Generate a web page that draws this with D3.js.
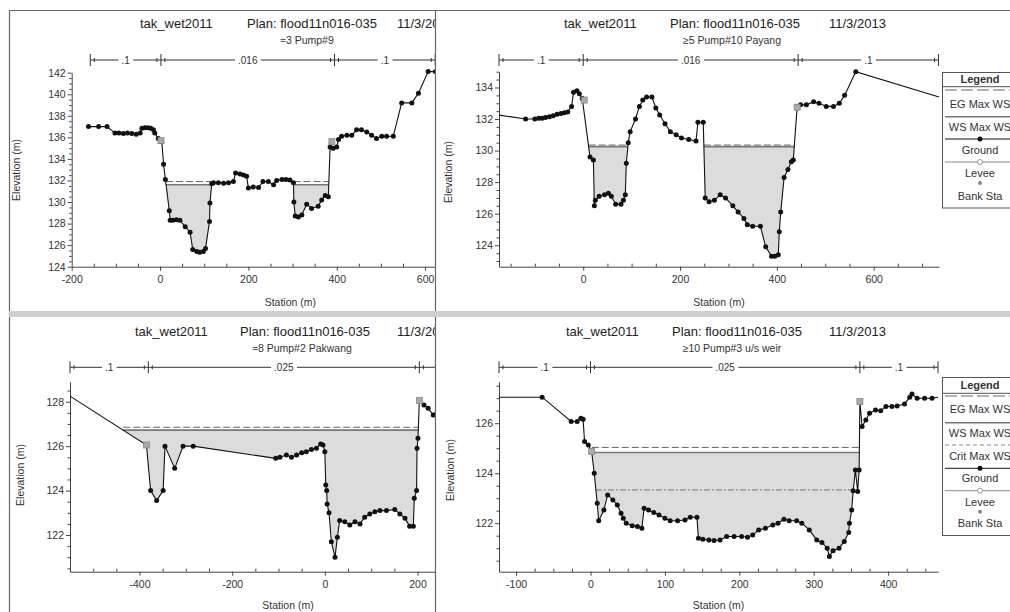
<!DOCTYPE html>
<html><head><meta charset="utf-8">
<script src="https://cdn.jsdelivr.net/npm/d3@7"></script>
<style>body{margin:0;background:#fff;} svg{display:block;font-family:"Liberation Sans",Arial,sans-serif;}</style>
</head><body><svg id="c" width="1010" height="612"></svg>
<script>
// ---------------- DATA ----------------
const titleProject = "tak_wet2011";
const titlePlan = "Plan: flood11n016-035";
const titleDate = "11/3/2013";
const subtitles = ["\u22483 Pump#9", "\u22655 Pump#10 Payang", "\u22488 Pump#2 Pakwang", "\u226510 Pump#3 u/s weir"];
const axisTitleX = "Station (m)";
const axisTitleY = "Elevation (m)";
const legendTitle = "Legend";
const legendItemsTR = ["EG Max WS", "WS Max WS", "Ground", "Levee", "Bank Sta"];
const legendItemsBR = ["EG Max WS", "WS Max WS", "Crit Max WS", "Ground", "Levee", "Bank Sta"];

// Panel 1 (top-left)
const tlStation = [-162,-139,-120,-102,-93,-83,-74,-64,-54,-45,-41,-34,-27,-21,-15,-12,-4,4,8,12,21,23,29,37,45,57,68,74,83,90,98,103,112,113,117,121,132,144,155,166,171,181,189,196,200,211,223,233,245,257,264,276,285,294,302,303,306,313,321,332,343,358,366,374,381,385,392,400,404,411,423,434,445,456,468,479,490,502,513,528,547,570,585,607,623];
const tlElev = [137,137,137,136.4,136.4,136.35,136.4,136.35,136.3,136.4,136.85,136.9,136.9,136.85,136.7,136.4,135.9,135.6,133.5,132.1,129.2,128.3,128.3,128.35,128.3,127.7,127.2,125.6,125.4,125.35,125.4,125.7,128.2,129.9,131.7,131.8,131.8,131.75,131.8,131.9,132.7,132.6,132.5,132.4,131.3,131.4,131.35,131.9,131.9,131.6,132.0,132.1,132.1,132.05,131.8,130.0,128.7,128.6,128.8,129.8,129.4,129.6,130.2,130.6,130.5,135.1,135.0,135.1,135.8,136.1,136.2,136.2,136.7,136.7,136.5,136.2,135.9,136.1,136.1,136.1,139.2,139.2,140.1,142.1,142.1];
const tlMarkStation = [2, 389];
const tlMarkElev = [135.7, 135.6];
const tlWS = 131.6, tlEG = 131.9;
const tlWetRanges = [[10,120],[300,384]];
const tlManningStation = [-158, 2, 395, 623];
const tlManningN = [".1", ".016", ".1"];
const tlXTicks = [-200, 0, 200, 400, 600];
const tlYTicks = [124,126,128,130,132,134,136,138,140,142];

// Panel 2 (top-right)
const trStation = [-174,-119,-100,-92,-85,-78,-70,-62,-54,-46,-39,-32,-24,-20,-13,-8,-2,14,21,23,25,33,44,52,58,67,78,83,87,89,93,97,108,116,123,131,142,150,158,169,180,192,203,218,233,237,248,252,260,271,283,294,309,320,332,339,350,366,377,389,396,403,405,408,415,423,430,434,442,449,461,476,487,502,517,529,540,563,735];
const trElev = [132.25,132.0,132.0,132.05,132.05,132.1,132.15,132.2,132.3,132.35,132.4,132.45,132.8,133.7,133.8,133.6,133.3,129.6,129.4,126.5,126.85,127.1,127.2,127.3,127.1,126.6,126.6,126.85,127.2,129.2,130.5,131.2,132.0,132.8,133.2,133.4,133.4,132.7,132.25,131.7,131.2,131.0,130.8,130.7,130.6,131.8,131.8,127.0,126.75,126.85,127.2,127.0,126.5,126.1,125.7,125.3,125.2,125.2,123.9,123.3,123.3,123.4,124.85,126.1,128.3,128.8,129.3,129.4,132.8,132.9,132.9,133.1,133.0,132.8,132.8,133.0,133.5,135.0,133.4];
const trMarkStation = [2, 442];
const trMarkElev = [133.2, 132.75];
const trWS = 130.25, trEG = 130.35;
const trWetRanges = [[5,95],[246,440]];
const trManningStation = [-174, 0, 444, 734];
const trManningN = [".1", ".016", ".1"];
const trXTicks = [0, 200, 400, 600];
const trYTicks = [124,126,128,130,132,134];

// Panel 3 (bottom-left)
const blStation = [-550,-385,-376,-363,-349,-345,-324,-306,-284,-106,-97,-83,-72,-61,-50,-40,-29,-18,-9,-4,0,2,4,5,9,14,22,27,32,43,54,65,76,86,97,108,119,133,151,162,173,183,191,193,198,199,201,204,214,223,234,241];
const blElev = [128.25,126.05,124.0,123.55,124.0,126.0,125.0,126.0,126.0,125.45,125.5,125.6,125.5,125.6,125.7,125.75,125.85,125.9,126.1,126.05,125.75,124.25,124.0,123.4,123.0,121.7,121.0,121.9,122.65,122.6,122.45,122.6,122.5,122.8,122.95,123.05,123.1,123.1,123.15,122.95,122.75,122.4,122.4,123.65,124.0,125.9,126.35,128.05,127.85,127.7,127.4,127.45];
const blMarkStation = [-385, 204];
const blMarkElev = [126.05, 128.05];
const blWS = 126.72, blEG = 126.85;
const blWetRanges = [[-440,203]];
const blManningStation = [-550, -381, 204, 391];
const blManningN = [".1", ".025", ".1"];
const blXTicks = [-400, -200, 0, 200];
const blYTicks = [122,124,126,128];

// Panel 4 (bottom-right)
const brStation = [-123,-65,-26,-18,-13,-10,-8,-3,1.5,5,9,11,18,23,30,36,41,44,48,56,63,69,72,78,85,92,100,107,117,127,134,143,145,151,159,166,174,183,193,203,211,218,226,235,245,252,260,267,277,284,294,304,311,318,321,326,334,341,347,348,351,353,356,359,361,362,365,370,375,383,390,397,405,412,422,429,432,439,449,459,467];
const brElev = [127.04,127.04,126.07,126.07,126.2,126.16,125.27,125.13,124.87,124.0,122.8,122.1,122.53,123.13,122.93,122.73,122.4,122.2,122.0,121.9,121.87,121.8,122.6,122.53,122.43,122.33,122.2,122.1,122.1,122.13,122.24,122.24,121.4,121.36,121.33,121.31,121.33,121.47,121.47,121.47,121.44,121.53,121.73,121.8,121.93,122.0,122.16,122.1,122.1,122.0,121.73,121.33,121.23,121.0,120.67,120.9,121.0,121.27,121.63,122.0,122.53,123.3,124.13,123.27,124.13,126.87,125.87,126.13,126.4,126.53,126.5,126.67,126.67,126.69,126.77,127.04,127.17,127.0,127.0,127.0,127.04];
const brMarkStation = [1.5, 362];
const brMarkElev = [124.87, 126.87];
const brWS = 124.83, brEG = 125.03, brCrit = 123.33;
const brWetRanges = [[0,362]];
const brManningStation = [-123, 0, 362, 467];
const brManningN = [".1", ".025", ".1"];
const brXTicks = [-100, 0, 100, 200, 300, 400];
const brYTicks = [122,124,126];

// ---------------- LAYOUT ----------------
const svg = d3.select("#c");
const FONT = '"Liberation Sans",Arial,sans-serif';
const fmt = d => String(d);

const panels = [
  {id:"tl", clip:[10,11,425,300], station:tlStation, elev:tlElev, markS:tlMarkStation, markE:tlMarkElev,
   ws:tlWS, eg:tlEG, crit:null, wet:tlWetRanges, mS:tlManningStation, mN:tlManningN, mY:60,
   xDomain:[-200,790], xRange:[71.7,509], yDomain:[124,142], yRange:[266.7,72.7],
   xTicks:tlXTicks, yTicks:tlYTicks, xMinor:50, yMinor:0.5,
   titleX:[140,247,397], titleY:28, subX:307, subY:44, elevX:16, elevY:170, statY:305.5, noDotEnds:false, subtitle:subtitles[0]},
  {id:"tr", clip:[436,11,574,300], station:trStation, elev:trElev, markS:trMarkStation, markE:trMarkElev,
   ws:trWS, eg:trEG, crit:null, wet:trWetRanges, mS:trManningStation, mN:trManningN, mY:60,
   xDomain:[-174,735], xRange:[499,939], yDomain:[122.64,135.0], yRange:[266.7,71.7],
   xTicks:trXTicks, yTicks:trYTicks, xMinor:50, yMinor:0.5,
   titleX:[564,670,829], titleY:28, subX:732, subY:44, elevX:448, elevY:172, statY:305.5, noDotEnds:true, subtitle:subtitles[1]},
  {id:"bl", clip:[10,317,425,295], station:blStation, elev:blElev, markS:blMarkStation, markE:blMarkElev,
   ws:blWS, eg:blEG, crit:null, wet:blWetRanges, mS:blManningStation, mN:blManningN, mY:367.3,
   xDomain:[-550,391], xRange:[70,506], yDomain:[120.35,128.9], yRange:[571.7,381.7],
   xTicks:blXTicks, yTicks:blYTicks, xMinor:50, yMinor:0.5,
   titleX:[135,240,397], titleY:335.5, subX:302, subY:351.5, elevX:20, elevY:475, statY:609, noDotEnds:true, subtitle:subtitles[2]},
  {id:"br", clip:[436,317,574,295], station:brStation, elev:brElev, markS:brMarkStation, markE:brMarkElev,
   ws:brWS, eg:brEG, crit:brCrit, wet:brWetRanges, mS:brManningStation, mN:brManningN, mY:367.3,
   xDomain:[-123,467], xRange:[499,938], yDomain:[120.06,127.66], yRange:[571.7,381.7],
   xTicks:brXTicks, yTicks:brYTicks, xMinor:25, yMinor:0.5,
   titleX:[566,672,829], titleY:335.5, subX:732, subY:351.5, elevX:450, elevY:470, statY:609, noDotEnds:true, subtitle:subtitles[3]}
];

function interp(pts, s) {
  for (let i = 0; i < pts.length - 1; i++) {
    const a = pts[i], b = pts[i+1];
    if (s >= a.s && s <= b.s) {
      const t = b.s === a.s ? 0 : (s - a.s) / (b.s - a.s);
      return a.e + t * (b.e - a.e);
    }
  }
  return pts[pts.length-1].e;
}
function wetExtent(pts, r, level) {
  const seq = [{s:r[0], e:interp(pts, r[0])}, ...pts.filter(d => d.s > r[0] && d.s < r[1]), {s:r[1], e:interp(pts, r[1])}];
  let first = null, last = null;
  for (let i = 0; i < seq.length - 1; i++) {
    const a = seq[i], b = seq[i+1];
    if ((a.e - level) * (b.e - level) < 0) {
      const c = a.s + (level - a.e) / (b.e - a.e) * (b.s - a.s);
      if (first === null) first = c;
      last = c;
    }
  }
  if (first === null) return [r[0], r[1]];
  return [first, last];
}

function drawPanel(p) {
  const clipId = "clip-" + p.id;
  svg.append("clipPath").attr("id", clipId).append("rect")
    .attr("x", p.clip[0]).attr("y", p.clip[1]).attr("width", p.clip[2]).attr("height", p.clip[3]);
  const g = svg.append("g").attr("clip-path", `url(#${clipId})`);
  const x = d3.scaleLinear().domain(p.xDomain).range(p.xRange);
  const y = d3.scaleLinear().domain(p.yDomain).range(p.yRange);
  const pts = p.station.map((s, i) => ({s, e: p.elev[i]}));

  // titles
  [titleProject, titlePlan, titleDate].forEach((t, i) => {
    g.append("text").attr("x", p.titleX[i]).attr("y", p.titleY).attr("font-size", 13)
      .attr("fill", "#222").text(t);
  });
  g.append("text").attr("x", p.subX).attr("y", p.subY).attr("text-anchor", "middle")
    .attr("font-size", 10.5).attr("fill", "#333").text(p.subtitle);

  // Manning bar
  const mg = g.append("g").attr("stroke", "#333").attr("stroke-width", 1);
  const mx0 = x(p.mS[0]), mx1 = x(p.mS[p.mS.length-1]);
  mg.append("line").attr("x1", mx0).attr("x2", mx1).attr("y1", p.mY).attr("y2", p.mY);
  p.mS.forEach((s, i) => {
    const xx = x(s);
    mg.append("line").attr("x1", xx).attr("x2", xx).attr("y1", p.mY - 6).attr("y2", p.mY + 6);
    if (i > 0) mg.append("line").attr("x1", xx - 4).attr("x2", xx - 4).attr("y1", p.mY - 2).attr("y2", p.mY + 2);
    if (i < p.mS.length - 1) mg.append("line").attr("x1", xx + 4).attr("x2", xx + 4).attr("y1", p.mY - 2).attr("y2", p.mY + 2);
  });
  p.mN.forEach((n, i) => {
    const cx = x((p.mS[i] + p.mS[i+1]) / 2);
    const t = g.append("text").attr("x", cx).attr("y", p.mY + 3.5).attr("text-anchor", "middle")
      .attr("font-size", 10).attr("fill", "#333").text(n);
    const bb = t.node().getBBox();
    g.insert("rect", () => t.node()).attr("x", bb.x - 3).attr("y", p.mY - 2).attr("width", bb.width + 6)
      .attr("height", 4).attr("fill", "#fff");
  });

  // water
  p.wet.forEach(r => {
    const w = wetExtent(pts, r, p.ws);
    const poly = [{s: w[0], e: p.ws}, ...pts.filter(d => d.s > w[0] && d.s < w[1]).map(d => ({s: d.s, e: Math.min(d.e, p.ws)})), {s: w[1], e: p.ws}];
    g.append("path").datum(poly)
      .attr("d", d3.area().x(d => x(d.s)).y0(y(p.ws)).y1(d => y(d.e)))
      .attr("fill", "#dcdcdc");
    g.append("line").attr("x1", x(w[0])).attr("x2", x(w[1])).attr("y1", y(p.eg)).attr("y2", y(p.eg))
      .attr("stroke", "#666").attr("stroke-width", 1).attr("stroke-dasharray", "7,3");
    g.append("line").attr("x1", x(w[0])).attr("x2", x(w[1])).attr("y1", y(p.ws)).attr("y2", y(p.ws))
      .attr("stroke", "#777").attr("stroke-width", 1.6);
    if (p.crit != null) {
      const c = wetExtent(pts, r, p.crit);
      g.append("line").attr("x1", x(c[0])).attr("x2", x(c[1])).attr("y1", y(p.crit)).attr("y2", y(p.crit))
        .attr("stroke", "#777").attr("stroke-width", 1).attr("stroke-dasharray", "6,2,2,2");
    }
  });

  // axes
  const axG = g.append("g").attr("font-family", FONT);
  axG.append("g").attr("transform", `translate(0,${p.yRange[0]})`)
    .call(d3.axisBottom(x).tickValues(p.xTicks).tickSize(4).tickPadding(5).tickSizeOuter(0).tickFormat(fmt));
  const xMinorVals = d3.range(Math.ceil(p.xDomain[0] / p.xMinor) * p.xMinor, p.xDomain[1] + 0.01, p.xMinor)
    .filter(v => !p.xTicks.includes(v));
  axG.append("g").attr("transform", `translate(0,${p.yRange[0]})`)
    .call(d3.axisTop(x).tickValues(xMinorVals).tickSize(3).tickFormat("").tickSizeOuter(0))
    .call(s => s.select(".domain").remove());
  axG.append("g").attr("transform", `translate(${p.xRange[0]},0)`)
    .call(d3.axisLeft(y).tickValues(p.yTicks).tickSize(4).tickPadding(2).tickSizeOuter(0).tickFormat(fmt));
  const yMinorVals = d3.range(Math.ceil(p.yDomain[0] / p.yMinor) * p.yMinor, p.yDomain[1] + 0.001, p.yMinor)
    .filter(v => !p.yTicks.includes(v));
  axG.append("g").attr("transform", `translate(${p.xRange[0]},0)`)
    .call(d3.axisLeft(y).tickValues(yMinorVals).tickSize(2.5).tickFormat("").tickSizeOuter(0))
    .call(s => s.select(".domain").remove());
  axG.selectAll(".domain, .tick line").attr("stroke", "#444");
  axG.selectAll(".tick text").attr("font-size", 10.5).attr("fill", "#333").attr("font-family", FONT);

  g.append("text").attr("x", (p.xRange[0] + p.xRange[1]) / 2).attr("y", p.statY).attr("text-anchor", "middle")
    .attr("font-size", 10.5).attr("fill", "#333").text(axisTitleX);
  g.append("text").attr("transform", `translate(${p.elevX},${p.elevY}) rotate(-90)`).attr("text-anchor", "middle")
    .attr("dominant-baseline", "central").attr("font-size", 10.5).attr("fill", "#333").text(axisTitleY);

  // ground
  g.append("path").datum(pts)
    .attr("d", d3.line().x(d => x(d.s)).y(d => y(d.e)))
    .attr("fill", "none").attr("stroke", "#111").attr("stroke-width", 1.1);
  const dotPts = pts.filter(d => !(p.noDotEnds && (d.s === p.xDomain[0] || d.s === p.xDomain[1])));
  g.selectAll(null).data(dotPts).enter().append("circle")
    .attr("cx", d => x(d.s)).attr("cy", d => y(d.e)).attr("r", 2.5).attr("fill", "#111");
  // bank / levee markers
  p.markS.forEach((s, i) => {
    g.append("rect").attr("x", x(s) - 3).attr("y", y(p.markE[i]) - 3).attr("width", 6).attr("height", 6)
      .attr("fill", "#aaa").attr("stroke", "#888").attr("stroke-width", 0.8);
  });
}

panels.forEach(drawPanel);

// legends
function drawLegend(x0, y0, h, items, rows) {
  const lg = svg.append("g");
  lg.append("rect").attr("x", x0 + 0.5).attr("y", y0 + 0.5).attr("width", 90).attr("height", h)
    .attr("fill", "#fff").attr("stroke", "#555");
  lg.append("text").attr("x", 980).attr("y", rows.title).attr("text-anchor", "middle").attr("font-size", 11)
    .attr("font-weight", "bold").attr("fill", "#333").text(legendTitle);
  lg.append("line").attr("x1", x0).attr("x2", 1010).attr("y1", rows.sep).attr("y2", rows.sep).attr("stroke", "#555");
  items.forEach((name, i) => {
    const r = rows.items[i];
    const kind = name.startsWith("EG") ? "eg" : name.startsWith("WS") ? "ws" : name.startsWith("Crit") ? "crit"
      : name === "Ground" ? "ground" : name === "Levee" ? "levee" : "bank";
    const ln = lg.append("line").attr("x1", x0 + 3).attr("x2", 1010).attr("y1", r[0]).attr("y2", r[0]);
    if (kind === "eg") ln.attr("stroke", "#666").attr("stroke-dasharray", "12,4");
    else if (kind === "ws") ln.attr("stroke", "#777").attr("stroke-width", 1.4);
    else if (kind === "crit") ln.attr("stroke", "#888").attr("stroke-dasharray", "4,3");
    else if (kind === "ground") {
      ln.attr("stroke", "#111");
      lg.append("circle").attr("cx", 980).attr("cy", r[0]).attr("r", 2.5).attr("fill", "#111");
    } else if (kind === "levee") {
      ln.attr("stroke", "#888");
      lg.append("circle").attr("cx", 980).attr("cy", r[0]).attr("r", 2.5).attr("fill", "#fff").attr("stroke", "#999");
    } else {
      ln.remove();
      lg.append("circle").attr("cx", 980).attr("cy", r[0]).attr("r", 2).attr("fill", "#888");
    }
    lg.append("text").attr("x", 980).attr("y", r[1]).attr("text-anchor", "middle").attr("font-size", 11)
      .attr("fill", "#333").text(name);
  });
}
drawLegend(942, 72, 135.5, legendItemsTR,
  {title: 83, sep: 86.7, items: [[90,108],[116.7,130.5],[139,154],[162,177],[183,199.5]]});
drawLegend(942, 377, 158, legendItemsBR,
  {title: 389, sep: 393.3, items: [[396,413],[422.7,436.5],[445,460],[468.3,482],[490.7,505.5],[511.7,527]]});

// frames
const fr = svg.append("g").attr("stroke", "#666").attr("stroke-width", 1.2);
fr.append("line").attr("x1", 9).attr("x2", 1010).attr("y1", 10.5).attr("y2", 10.5);
fr.append("line").attr("x1", 9.5).attr("x2", 9.5).attr("y1", 10).attr("y2", 612);
svg.append("rect").attr("x", 9).attr("y", 311).attr("width", 1001).attr("height", 6).attr("fill", "#cfcfcf");
fr.append("line").attr("x1", 9).attr("x2", 1010).attr("y1", 311.5).attr("y2", 311.5);
fr.append("line").attr("x1", 9).attr("x2", 1010).attr("y1", 316.5).attr("y2", 316.5).attr("stroke", "#999");
fr.append("line").attr("x1", 435.5).attr("x2", 435.5).attr("y1", 10).attr("y2", 612);
</script></body></html>
